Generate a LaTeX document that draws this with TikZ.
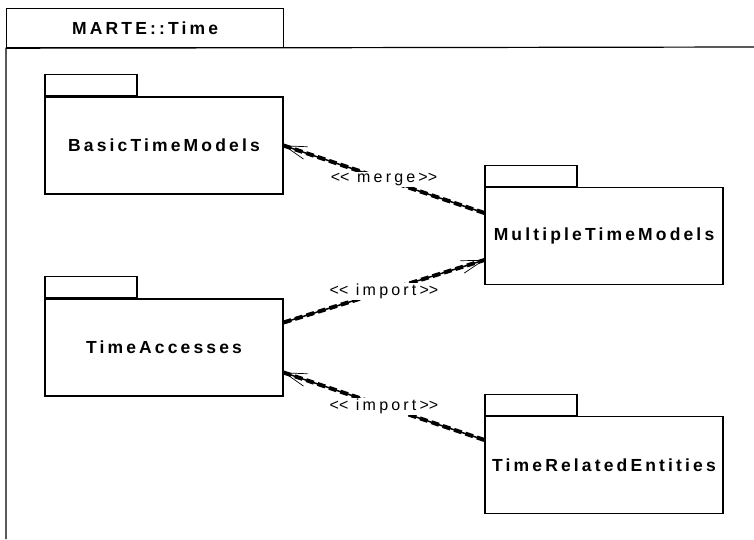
\documentclass[tikz,border=0pt]{standalone}
\usepackage{fontspec}
\setmainfont{Liberation Sans}
\newfontfamily\umlfont[LetterSpace=18]{Liberation Sans}
\newfontfamily\stereofont[LetterSpace=20]{Liberation Sans}
\usetikzlibrary{arrows.meta,positioning}
\newcommand\stereo[1]{<\kern0pt< #1>\kern0pt>}
\tikzset{
  pkg/.style={draw, line width=1.1pt, minimum width=238pt, minimum height=97pt, inner sep=0pt,
    font=\umlfont\bfseries\fontsize{17.5}{20}\selectfont},
  pkgtab/.style={draw, line width=1.1pt, minimum width=92pt, minimum height=21pt, inner sep=0pt, anchor=south west},
  dep/.style={line width=1.5pt, -{Straight Barb[length=22pt, width=13pt, line width=0.7pt]},
    postaction={draw, -, line width=4pt, dash pattern=on 8pt off 4pt}},
  stereolabel/.style={midway, fill=white, inner sep=1pt, font=\stereofont\fontsize{16}{19}\selectfont}
}
\begin{document}
\begin{tikzpicture}[x=1pt, y=-1pt]
    \useasboundingbox (0,0) rectangle (754,539);
    % outer package frame
    \node[draw, line width=1.2pt, minimum width=277pt, minimum height=39pt, inner sep=0pt, anchor=north west,
      font=\umlfont\bfseries\fontsize{17.5}{20}\selectfont] (frametab) at (6,8) {MARTE::Time};
    \draw[line width=1.2pt] (6,539) -- (frametab.south west) -- (754,47);
    % packages
    \node[pkg] (basic) at (164,145.5) {BasicTimeModels};
    \node[pkgtab] (basictab) at (basic.north west) {};
    \node[pkg] (time) at (164,347.5) {TimeAccesses};
    \node[pkgtab] (timetab) at (time.north west) {};
    \node[pkg] (multi) at (604,236) {MultipleTimeModels};
    \node[pkgtab] (multitab) at (multi.north west) {};
    \node[pkg] (related) at (604,465) {TimeRelatedEntities};
    \node[pkgtab] (relatedtab) at (related.north west) {};
    % dependencies
    \draw[dep] ([yshift=23pt]multi.west) -- node[stereolabel] {\stereo{merge}} (basic.east);
    \draw[dep] ([yshift=25pt]time.east) -- node[stereolabel] {\stereo{import}} ([yshift=-24pt]multi.west);
    \draw[dep] ([yshift=25pt]related.west) -- node[stereolabel] {\stereo{import}} ([yshift=-25pt]time.east);
\end{tikzpicture}
\end{document}
